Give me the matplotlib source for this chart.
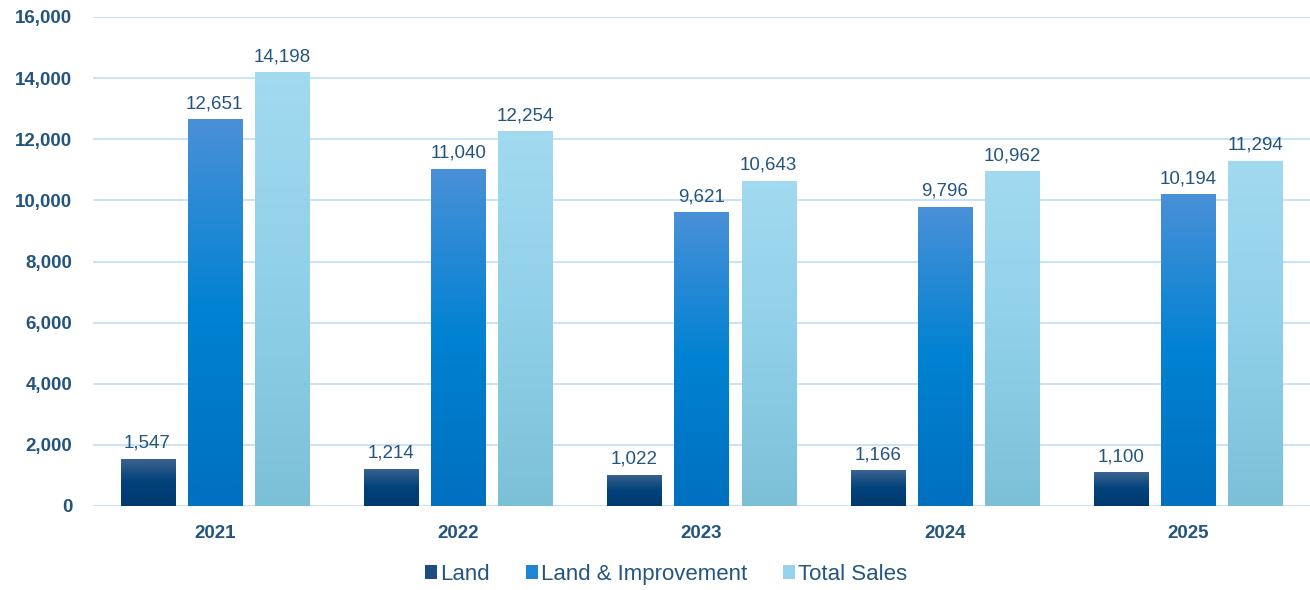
import numpy as np
import matplotlib
matplotlib.use("Agg")
import matplotlib.pyplot as plt
from matplotlib.colors import LinearSegmentedColormap
from matplotlib.patches import Patch

plt.rcParams['font.family'] = ['Liberation Sans', 'DejaVu Sans']

# data
years = ['2021', '2022', '2023', '2024', '2025']
series_names = ['Land', 'Land & Improvement', 'Total Sales']
land = [1547, 1214, 1022, 1166, 1100]
land_improvement = [12651, 11040, 9621, 9796, 10194]
total_sales = [14198, 12254, 10643, 10962, 11294]

# gradient colours, bottom -> top
gradients = [
    ['#003a70', '#00427a', '#3d6391'],
    ['#0070c0', '#0082d2', '#4a90d8'],
    ['#7cc0d8', '#8fd0e8', '#a2daf0'],
]
legend_colors = ['#1e4d80', '#1f86d6', '#93d3ec']
text_color = '#24557f'

fig = plt.figure(figsize=(13.1, 5.9), dpi=100)
ax = fig.add_axes([93 / 1310, 84 / 590, 1217 / 1310, 489 / 590])

x = np.arange(len(years))
width = 0.222
offset = 0.276
grad = np.linspace(0, 1, 256).reshape(-1, 1)

for i, vals in enumerate([land, land_improvement, total_sales]):
    cmap = LinearSegmentedColormap.from_list(series_names[i], gradients[i])
    bars = ax.bar(x + (i - 1) * offset, vals, width, color=gradients[i][1],
                  linewidth=0, zorder=2)
    for b, v in zip(bars, vals):
        x0 = b.get_x()
        im = ax.imshow(grad, extent=[x0, x0 + b.get_width(), 0, v], origin='lower',
                       cmap=cmap, aspect='auto', zorder=2.5)
        im.set_clip_path(b)
        ax.annotate(f'{v:,}', (b.get_x() + b.get_width() / 2, v),
                    xytext=(0, 5), textcoords='offset points',
                    ha='center', va='bottom', fontsize=13.5, color=text_color)

ax.set_xlim(-0.5, len(years) - 0.5)
ax.set_ylim(0, 16000)
ax.set_yticks(np.arange(0, 16001, 2000))
ax.yaxis.set_major_formatter(matplotlib.ticker.FuncFormatter(lambda v, p: f'{int(v):,}'))
ax.set_xticks(x)
ax.set_xticklabels(years)
ax.grid(axis='y', color='#c8e3f7', linewidth=1.4, zorder=0)
ax.set_axisbelow(True)
for s in ax.spines.values():
    s.set_visible(False)
ax.tick_params(axis='both', length=0, labelcolor=text_color, labelsize=13.5)
ax.tick_params(axis='y', pad=15)
ax.tick_params(axis='x', pad=14)
for lbl in ax.get_xticklabels() + ax.get_yticklabels():
    lbl.set_fontweight('bold')

handles = [Patch(facecolor=c, edgecolor='none') for c in legend_colors]
ax.legend(handles, series_names, loc='center', bbox_to_anchor=(0.471, -0.14),
          ncol=3, frameon=False, fontsize=16, labelcolor=text_color,
          handlelength=0.55, handleheight=0.55, handletextpad=0.15, columnspacing=1.6)

fig.savefig('out.png', dpi=100)
